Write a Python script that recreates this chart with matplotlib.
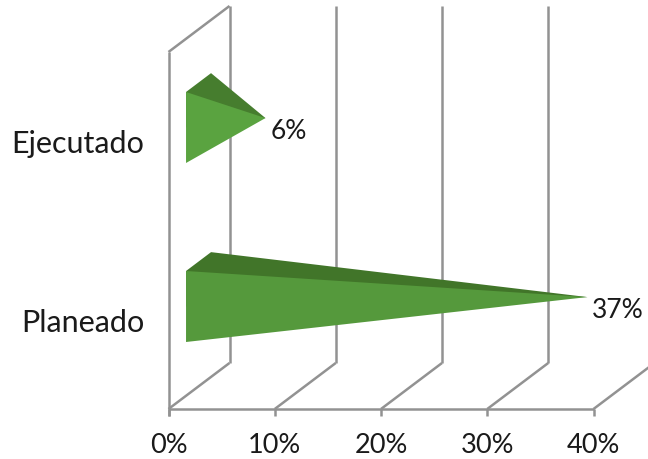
import matplotlib
matplotlib.use('Agg')
import matplotlib.pyplot as plt
from matplotlib.patches import Polygon

categories = ['Planeado', 'Ejecutado']
values = [36.6, 6.3]
ticks = [0, 10, 20, 30, 40]

plt.rcParams['font.family'] = ['Lato', 'DejaVu Sans']

# one percent is this many pixels along the front of the floor
px_per_pct = 10.625
x_zero = 168.5
depth_x = 61 / px_per_pct
depth_y = -46
floor = 410
wall_top = 53

# cone base, y runs in pixels from the top of the picture
row_y = [307.5, 128.5]
base_half = 35.5
base_x = 1.65
cone_depth = 0.41

front_colors = ['#55993c', '#5aa340']
top_colors = ['#417529', '#467d2e']
grid_color = '#929292'
text_color = '#1a1a1a'

fig = plt.figure(figsize=(6.48, 4.6), dpi=100)
ax = fig.add_axes([0, 0, 1, 1])
ax.set_xlim(-x_zero / px_per_pct, (648 - x_zero) / px_per_pct)
ax.set_ylim(460, 0)
ax.axis('off')


def line(xs, ys):
    ax.plot(xs, ys, color=grid_color, lw=1.8, solid_capstyle='butt', zorder=1)


# left wall and the gridlines at the back
line([0, 0], [floor + 7, wall_top])
line([0, depth_x], [wall_top, wall_top + depth_y])
for t in ticks:
    line([t, t + depth_x], [floor, floor + depth_y])
    line([t, t], [floor, floor + 7])
    if t < 40:
        line([t + depth_x, t + depth_x], [floor + depth_y, wall_top + depth_y])
    ax.text(t, 446, '%d%%' % t, ha='center', va='center', fontsize=19.5, color=text_color)
line([0, 40], [floor, floor])

# cones, the dark part runs on under the front so no seam shows
for cat, val, y, fc, tc in zip(categories, values, row_y, front_colors, top_colors):
    top = y - base_half
    bottom = y + base_half
    back_x = base_x + depth_x * cone_depth
    tip_x = base_x + depth_x * cone_depth / 2 + val
    tip_y = y + depth_y * cone_depth / 2
    ax.add_patch(Polygon([(base_x, top), (back_x, top + depth_y * cone_depth), (tip_x, tip_y), (base_x, y)],
                         closed=True, fc=tc, ec='none', zorder=2))
    ax.add_patch(Polygon([(base_x, top), (base_x, bottom), (tip_x, tip_y)],
                         closed=True, fc=fc, ec='none', zorder=3))
    ax.text(tip_x + 0.45, tip_y + 12.5, '%.0f%%' % val, ha='left', va='center', fontsize=19, color=text_color, zorder=4)
    ax.text(-2.3, y + 15.5, cat, ha='right', va='center', fontsize=22, color=text_color)

fig.savefig('out.png', dpi=100)
